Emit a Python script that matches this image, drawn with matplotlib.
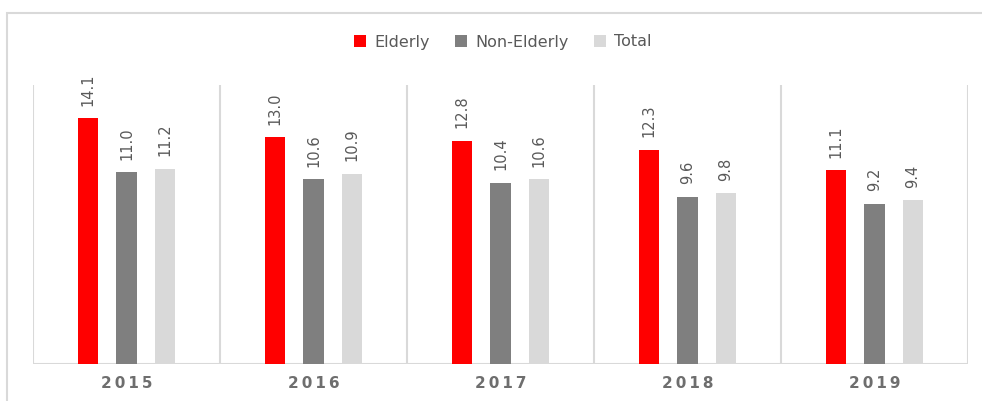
import numpy as np
import matplotlib
matplotlib.use("Agg")
import matplotlib.pyplot as plt
from matplotlib.patches import Rectangle, Patch

years = ["2015", "2016", "2017", "2018", "2019"]
elderly = [14.1, 13.0, 12.8, 12.3, 11.1]
non_elderly = [11.0, 10.6, 10.4, 9.6, 9.2]
total = [11.2, 10.9, 10.6, 9.8, 9.4]

series_names = ["Elderly", "Non-Elderly", "Total"]
colors = ["#FF0000", "#7F7F7F", "#D9D9D9"]
txt_color = "#595959"

W, H = 982, 401
fig = plt.figure(figsize=(W / 100, H / 100), dpi=100)

# outer chart border
fig.patches.append(Rectangle((7 / W, -0.1), 1.2, 1.1 - 13 / H, transform=fig.transFigure,
                             fill=False, edgecolor="#D9D9D9", linewidth=1.5))

ax = fig.add_axes([33 / W, 1 - 364 / H, (968 - 33) / W, (364 - 85) / H])

x = np.arange(len(years))
step = 0.206
bw = 0.107
for k, (vals, c) in enumerate(zip([elderly, non_elderly, total], colors)):
    pos = x + (k - 1) * step
    ax.bar(pos, vals, width=bw, color=c, zorder=3)
    for p, v in zip(pos, vals):
        ax.annotate(f"{v:.1f}", (p, v), xytext=(0, 9), textcoords="offset points",
                    rotation=90, ha="center", va="bottom", fontsize=10.5, color=txt_color)

ax.set_xlim(-0.5, len(years) - 0.5)
ax.set_ylim(0, 16)
for b in np.arange(-0.5, len(years), 1.0):
    ax.axvline(b, color="#D9D9D9", linewidth=1.5, zorder=1)
ax.axhline(0, color="#D9D9D9", linewidth=1.5, zorder=2)

for s in ax.spines.values():
    s.set_visible(False)
ax.set_yticks([])
ax.set_xticks(x)
ax.set_xticklabels(["\u2009".join(y) for y in years], fontsize=11, color="#6E6E6E",
                   fontweight="bold")
ax.tick_params(axis="x", length=0, pad=9)

handles = [Patch(facecolor=c, edgecolor="none") for c in colors]
fig.legend(handles, series_names, loc="center", bbox_to_anchor=(503 / W, 1 - 42 / H), ncol=3,
           frameon=False, fontsize=11.5, handlelength=0.75, handleheight=0.75,
           handletextpad=0.5, columnspacing=1.6, labelcolor=txt_color)

fig.savefig("out.png", dpi=100)
